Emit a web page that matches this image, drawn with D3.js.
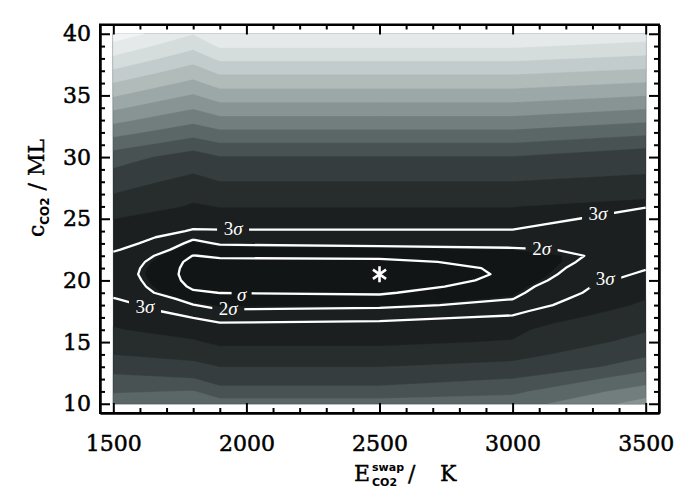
<!DOCTYPE html>
<html><head><meta charset="utf-8">
<script src="https://cdn.jsdelivr.net/npm/d3@7/dist/d3.min.js"></script>
<style>body{margin:0;background:#fff} svg{display:block}</style>
</head><body>
<svg id="chart" width="700" height="499"></svg>
<script>
// ---------------- data ----------------
const xNodes = [1500, 1800, 1900, 2500, 3000, 3500];
const yNodes = [10,11,12,13,14,15,16,16.5,17,17.5,18,18.5,19,19.5,20,20.5,21,21.5,22,22.5,23,23.5,24,24.5,25,26,27,28,29,30,31,32,33,34,35,36,37,38,39,40];
const col1500 = [76,69,65,52,39.6,29,20.6, 19.4,18.3,16.5,14.5,12.2,9.7,9.3,8.95,8.56,8.81,9.38,10.33,12.6,15,17.3,19,19.6,20.1, 29.8,39.6,49.4,59.4,64.7,74.3,83.5,92.7,101.8,110.9,119.8,128.9,138,147,156];
const col1800 = [78,70.5,61,47,32,21,16.5, 14,11.6,8.6,6.3,4.5,2.8,1.7,1.1,0.9,1.0,1.3,2.2,3.6,5.0,6.9,11.0,13.5,15.5, 18.5,23.5,33,43.5,55,64.5,73.8,82.5,90.8,99,107.5,115.5,124,132.5,140.5];
const col1900 = [73,66,53,39.8,24,18.2,15.2, 12.2,9.6,6.6,5.2,3.4,2.25,0.9,0.3,0.2,0.6,1.5,2.8,4.6,6.6,9.0,11.4,13.2,15.4, 20.4,30,39.7,49.5,59.4,68.6,77.8,87.0,96.1,105,114,122.7,132,141.3,149];
const col2500 = [73,66,53,39.8,24,18.2,15.2, 12.8,10.3,7.6,5.0,3.3,1.9,0.7,0.15,0.05,0.8,1.6,3.0,5.0,7.1,9.2,11.4,13.2,15.4, 20.4,30,39.7,49.5,59.4,68.6,77.8,87.0,96.1,105,114,122.7,132,141.3,149];
const col3000 = [75,68,60.5,46,33,20.7,17.2, 14.8,12.6,10.2,7.6,6.1,4.95,3.98,3.14,2.75,2.76,3.2,4.0,5.6,7.6,9.5,11.4,13.2,15.4, 20.4,30,39.7,49.5,59.4,68.6,77.8,87.0,96.1,105,114,122.7,132,141.3,149];
const col3500 = [94,85,75,67,58,47,38, 32,27,24,21.5,19.8,18.0,17.2,14.7,12.86,11.35,9.46,8.05,7.4,6.9,6.6,6.6,6.75,8.16, 12.2,25,34,43.5,53,62.7,72.3,81.7,91,100.2,109.4,118.5,127.6,136.7,145.8];

const bandLevels = [5.5, 20, 40, 60, 70, 80, 90, 100, 110, 120, 130, 140, 150];
const bandColors = ["#121516","#1b1f20","#272c2d","#363d3e","#485252","#5b6767","#717e7d","#879493","#9ca8a7","#b0bbba","#c3cccc","#d5dcdc","#e5e9e9","#f2f4f4"];
const sigmaLevels = [2.3, 6.18, 11.8];

const labelText = ["3σ","3σ","2σ","3σ","σ","2σ","3σ"];
const labelX    = [1950, 3321, 3109, 3348, 1982, 1932, 1619];
const labelY    = [24.16, 25.38, 22.52, 20.08, 18.81, 17.65, 17.81];

const bestFit = {x: 2500, y: 20.5};
const xTicks = [1500, 2000, 2500, 3000, 3500];
const yTicks = [10, 15, 20, 25, 30, 35, 40];
const xMinor = d3.range(1500, 3501, 100);
const yMinor = d3.range(10, 41, 1);

// ---------------- layout ----------------
const svg = d3.select("#chart");
const frame = {left: 100, right: 659, top: 24.5, bottom: 413};
const x = d3.scaleLinear().domain([1450, 3550]).range([frame.left, frame.right]);
const y = d3.scaleLinear().domain([9.25, 40.75]).range([frame.bottom, frame.top]);

const columns = [col1500, col1800, col1900, col2500, col3000, col3500];
const nx = xNodes.length, ny = yNodes.length;
const values = new Array(nx * ny);
for (let j = 0; j < ny; j++) for (let i = 0; i < nx; i++) values[i + j * nx] = columns[i][j];

// detect the sample offset used by d3.contours smoothing
let off = 0.5;
d3.contours().size([2, 1]).thresholds([0.5])([0, 1]).forEach(c =>
  c.coordinates.forEach(poly => poly.forEach(ring => ring.forEach(p => {
    if (p[1] > 0.01 && p[1] < 0.99 && p[0] > 0.01 && p[0] < 1.99) off = p[0] - 0.5;
  }))));

function nodeMap(nodes, g) {
  g = Math.max(0, Math.min(nodes.length - 1, g));
  const i = Math.min(nodes.length - 2, Math.floor(g));
  const f = g - i;
  return nodes[i] + f * (nodes[i + 1] - nodes[i]);
}
const gx = c => Math.max(0, Math.min(nx - 1, c - off));
const gy = c => Math.max(0, Math.min(ny - 1, c - off));
const P = p => [x(nodeMap(xNodes, p[0] - off)), y(nodeMap(yNodes, p[1] - off))];

const contourGen = d3.contours().size([nx, ny]).smooth(true);

// ---------------- filled bands ----------------
const gPlot = svg.append("g");
gPlot.append("rect")
  .attr("x", x(xNodes[0])).attr("y", y(yNodes[ny - 1]))
  .attr("width", x(xNodes[nx - 1]) - x(xNodes[0]))
  .attr("height", y(yNodes[0]) - y(yNodes[ny - 1]))
  .attr("fill", bandColors[0]);

const bands = contourGen.thresholds(bandLevels)(values);
bands.forEach((b, k) => {
  let d = "";
  b.coordinates.forEach(poly => poly.forEach(ring => {
    ring.forEach((p, idx) => { const q = P(p); d += (idx ? "L" : "M") + q[0].toFixed(2) + "," + q[1].toFixed(2); });
    d += "Z";
  }));
  gPlot.append("path").attr("d", d).attr("fill", bandColors[k + 1]).attr("fill-rule", "evenodd")
    .attr("stroke", bandColors[k + 1]).attr("stroke-width", 0.3);
});

// ---------------- sigma contour lines ----------------
const defs = svg.append("defs");
const mask = defs.append("mask").attr("id", "lblmask").attr("maskUnits", "userSpaceOnUse")
  .attr("x", 0).attr("y", 0).attr("width", 700).attr("height", 499);
mask.append("rect").attr("x", 0).attr("y", 0).attr("width", 700).attr("height", 499).attr("fill", "#fff");
labelText.forEach((t, i) => {
  const w = t.length > 1 ? 32 : 20;
  mask.append("rect").attr("x", x(labelX[i]) - w / 2).attr("y", y(labelY[i]) - 9)
    .attr("width", w).attr("height", 18).attr("fill", "#000");
});

const onEdge = (a, b) => {
  const ax = gx(a[0]), bx = gx(b[0]), ay = gy(a[1]), by = gy(b[1]);
  const e = 1e-6;
  return (ax < e && bx < e) || (ax > nx - 1 - e && bx > nx - 1 - e) ||
         (ay < e && by < e) || (ay > ny - 1 - e && by > ny - 1 - e);
};
const sig = d3.contours().size([nx, ny]).smooth(true).thresholds(sigmaLevels)(values);
let dLines = "";
sig.forEach(c => c.coordinates.forEach(poly => poly.forEach(ring => {
  let pen = false;
  for (let k = 1; k < ring.length; k++) {
    const a = ring[k - 1], b = ring[k];
    if (onEdge(a, b)) { pen = false; continue; }
    const qa = P(a), qb = P(b);
    if (!pen) { dLines += "M" + qa[0].toFixed(2) + "," + qa[1].toFixed(2); pen = true; }
    dLines += "L" + qb[0].toFixed(2) + "," + qb[1].toFixed(2);
  }
})));
svg.append("path").attr("d", dLines).attr("fill", "none").attr("stroke", "#fff")
  .attr("stroke-width", 2.3).attr("stroke-linejoin", "round").attr("mask", "url(#lblmask)");

// contour labels
labelText.forEach((t, i) => {
  const tx = svg.append("text").attr("x", x(labelX[i])).attr("y", y(labelY[i]) + 6)
    .attr("text-anchor", "middle").attr("fill", "#fff")
    .style("font-family", "'Liberation Serif', 'DejaVu Serif', serif").style("font-size", "19px");
  if (t.length > 1) tx.append("tspan").text(t[0]);
  tx.append("tspan").style("font-style", "italic").text("σ");
});

// best-fit star
const sx = x(bestFit.x), sy = y(bestFit.y), r = 8;
let dStar = "";
[90, 35, 145].forEach(a => {
  const ca = Math.cos(a * Math.PI / 180) * r, sa = Math.sin(a * Math.PI / 180) * r;
  dStar += `M${sx - ca},${sy - sa}L${sx + ca},${sy + sa}`;
});
svg.append("path").attr("d", dStar).attr("stroke", "#fff").attr("stroke-width", 2.6).attr("fill", "none");

// ---------------- axes ----------------
const fontAxis = "'DejaVu Serif', 'Liberation Serif', serif";
function styleAxis(g) {
  g.attr("font-family", null).attr("font-size", null);
  g.selectAll("path.domain").attr("stroke", "#000").attr("stroke-width", 2);
  g.selectAll(".tick line").attr("stroke", "#000").attr("stroke-width", 2);
  g.selectAll(".tick text").attr("fill", "#000").attr("stroke", "#000").attr("stroke-width", 0.5)
    .style("font-family", fontAxis).style("font-size", "22px");
}
const minorX = xMinor.filter(v => !xTicks.includes(v));
const minorY = yMinor.filter(v => !yTicks.includes(v));

svg.append("g").attr("transform", `translate(0,${frame.bottom})`)
  .call(d3.axisBottom(x).tickValues(xTicks).tickSize(-10).tickSizeOuter(0).tickPadding(22).tickFormat(d3.format("d")))
  .call(styleAxis);
svg.append("g").attr("transform", `translate(0,${frame.bottom})`)
  .call(d3.axisBottom(x).tickValues(minorX).tickSize(-5).tickSizeOuter(0).tickFormat(""))
  .call(styleAxis);
svg.append("g").attr("transform", `translate(0,${frame.top})`)
  .call(d3.axisTop(x).tickValues(xTicks).tickSize(-10).tickSizeOuter(0).tickFormat(""))
  .call(styleAxis);
svg.append("g").attr("transform", `translate(0,${frame.top})`)
  .call(d3.axisTop(x).tickValues(minorX).tickSize(-5).tickSizeOuter(0).tickFormat(""))
  .call(styleAxis);
svg.append("g").attr("transform", `translate(${frame.left},0)`)
  .call(d3.axisLeft(y).tickValues(yTicks).tickSize(-10).tickSizeOuter(0).tickPadding(9).tickFormat(d3.format("d")))
  .call(styleAxis);
svg.append("g").attr("transform", `translate(${frame.left},0)`)
  .call(d3.axisLeft(y).tickValues(minorY).tickSize(-5).tickSizeOuter(0).tickFormat(""))
  .call(styleAxis);
svg.append("g").attr("transform", `translate(${frame.right},0)`)
  .call(d3.axisRight(y).tickValues(yTicks).tickSize(-10).tickSizeOuter(0).tickFormat(""))
  .call(styleAxis);
svg.append("g").attr("transform", `translate(${frame.right},0)`)
  .call(d3.axisRight(y).tickValues(minorY).tickSize(-5).tickSizeOuter(0).tickFormat(""))
  .call(styleAxis);
// frame
svg.append("rect").attr("x", frame.left).attr("y", frame.top)
  .attr("width", frame.right - frame.left).attr("height", frame.bottom - frame.top)
  .attr("fill", "none").attr("stroke", "#000").attr("stroke-width", 2);

// ---------------- axis titles ----------------
const yt = svg.append("text").attr("transform", "translate(44,188) rotate(-90)")
  .attr("text-anchor", "middle").attr("fill", "#000").attr("stroke", "#000").attr("stroke-width", 0.4)
  .style("font-family", fontAxis).style("font-size", "22px");
yt.append("tspan").text("c");
yt.append("tspan").attr("dy", 5).attr("stroke-width", 0).style("font-size", "12px").style("font-family", "'DejaVu Sans', sans-serif").style("font-weight", "bold").text("CO2");
yt.append("tspan").attr("dy", -5).text(" / ML");

const xt = svg.append("g").attr("transform", "translate(354,481)");
xt.append("text").attr("x", 0).attr("y", 0).attr("stroke", "#000").attr("stroke-width", 0.4).style("font-family", fontAxis).style("font-size", "22px").text("E");
xt.append("text").attr("x", 18).attr("y", -10).style("font-family", "'DejaVu Sans', sans-serif").style("font-weight", "bold").style("font-size", "11px").text("swap");
xt.append("text").attr("x", 18).attr("y", 5).style("font-family", "'DejaVu Sans', sans-serif").style("font-weight", "bold").style("font-size", "11px").text("CO2");
xt.append("text").attr("x", 54).attr("y", 0).attr("stroke", "#000").attr("stroke-width", 0.4).style("font-family", fontAxis).style("font-size", "22px").text("/");
xt.append("text").attr("x", 86).attr("y", 0).attr("stroke", "#000").attr("stroke-width", 0.4).style("font-family", fontAxis).style("font-size", "22px").text("K");
</script>
</body></html>
